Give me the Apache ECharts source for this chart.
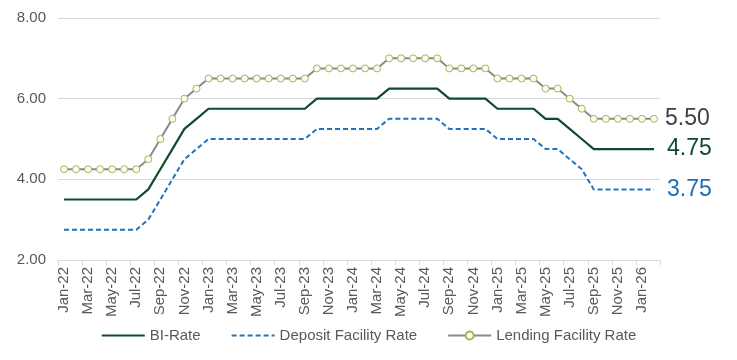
<!DOCTYPE html>
<html>
<head>
<meta charset="utf-8">
<script src="https://cdn.jsdelivr.net/npm/echarts@6/dist/echarts.min.js"></script>
<style>html,body{margin:0;padding:0;background:#fff}#c{width:737px;height:360px}</style>
</head>
<body>
<div id="c"></div>
<script>
const months = ["Jan-22","Feb-22","Mar-22","Apr-22","May-22","Jun-22","Jul-22","Aug-22","Sep-22","Oct-22","Nov-22","Dec-22",
"Jan-23","Feb-23","Mar-23","Apr-23","May-23","Jun-23","Jul-23","Aug-23","Sep-23","Oct-23","Nov-23","Dec-23",
"Jan-24","Feb-24","Mar-24","Apr-24","May-24","Jun-24","Jul-24","Aug-24","Sep-24","Oct-24","Nov-24","Dec-24",
"Jan-25","Feb-25","Mar-25","Apr-25","May-25","Jun-25","Jul-25","Aug-25","Sep-25","Oct-25","Nov-25","Dec-25",
"Jan-26","Feb-26"];
const biRate = [3.50,3.50,3.50,3.50,3.50,3.50,3.50,3.75,4.25,4.75,5.25,5.50,
5.75,5.75,5.75,5.75,5.75,5.75,5.75,5.75,5.75,6.00,6.00,6.00,
6.00,6.00,6.00,6.25,6.25,6.25,6.25,6.25,6.00,6.00,6.00,6.00,
5.75,5.75,5.75,5.75,5.50,5.50,5.25,5.00,4.75,4.75,4.75,4.75,
4.75,4.75];
const depositRate = [2.75,2.75,2.75,2.75,2.75,2.75,2.75,3.00,3.50,4.00,4.50,4.75,
5.00,5.00,5.00,5.00,5.00,5.00,5.00,5.00,5.00,5.25,5.25,5.25,
5.25,5.25,5.25,5.50,5.50,5.50,5.50,5.50,5.25,5.25,5.25,5.25,
5.00,5.00,5.00,5.00,4.75,4.75,4.50,4.25,3.75,3.75,3.75,3.75,
3.75,3.75];
const lendingRate = [4.25,4.25,4.25,4.25,4.25,4.25,4.25,4.50,5.00,5.50,6.00,6.25,
6.50,6.50,6.50,6.50,6.50,6.50,6.50,6.50,6.50,6.75,6.75,6.75,
6.75,6.75,6.75,7.00,7.00,7.00,7.00,7.00,6.75,6.75,6.75,6.75,
6.50,6.50,6.50,6.50,6.25,6.25,6.00,5.75,5.50,5.50,5.50,5.50,
5.50,5.50];
const yTicks = [2, 4, 6, 8];

const FONT = 'Liberation Sans, Arial, sans-serif';
const GREEN = '#0f4a2f', BLUE = '#2272bd', GREY = '#8a8a8a';
const chart = echarts.init(document.getElementById('c'), null, {renderer: 'canvas'});
chart.setOption({
  animation: false,
  textStyle: {fontFamily: FONT},
  grid: {left: 58, right: 77, top: 18, bottom: 100},
  legend: {
    bottom: 12, left: 'center', itemWidth: 43, itemHeight: 10, itemGap: 30,
    textStyle: {fontSize: 15, color: '#595959', fontFamily: FONT},
    data: [
      {name: 'BI-Rate', itemStyle: {opacity: 0}},
      {name: 'Deposit Facility Rate', itemStyle: {opacity: 0}},
      {name: 'Lending Facility Rate'}
    ]
  },
  xAxis: {
    type: 'category', data: months, boundaryGap: true,
    axisLine: {lineStyle: {color: '#d9d9d9', width: 1}},
    axisTick: {show: true, interval: 1, length: 5, lineStyle: {color: '#d9d9d9'}},
    axisLabel: {interval: 1, rotate: 90, fontSize: 15, color: '#595959', margin: 7, fontFamily: FONT}
  },
  yAxis: {
    type: 'value', min: yTicks[0], max: yTicks[yTicks.length - 1], interval: 2,
    axisLine: {show: false}, axisTick: {show: false},
    splitLine: {lineStyle: {color: '#d9d9d9', width: 1}},
    axisLabel: {fontSize: 15, color: '#595959', margin: 12, formatter: v => v.toFixed(2), fontFamily: FONT}
  },
  series: [
    {
      name: 'BI-Rate', type: 'line', data: biRate, showSymbol: false, symbol: 'none',
      lineStyle: {color: GREEN, width: 2.2}, itemStyle: {color: GREEN},
      endLabel: {show: true, formatter: p => p.value.toFixed(2), fontSize: 23, color: GREEN, distance: 13, fontFamily: FONT}
    },
    {
      name: 'Deposit Facility Rate', type: 'line', data: depositRate, showSymbol: false, symbol: 'none',
      lineStyle: {color: BLUE, width: 2, type: [5, 3]}, itemStyle: {color: BLUE},
      endLabel: {show: true, formatter: p => p.value.toFixed(2), fontSize: 23, color: '#1e6db5', distance: 13, fontFamily: FONT}
    },
    {
      name: 'Lending Facility Rate', type: 'line', data: lendingRate, symbol: 'circle', symbolSize: 7, showSymbol: true,
      lineStyle: {color: GREY, width: 2},
      itemStyle: {color: '#fdfde8', borderColor: '#a9ae6a', borderWidth: 1},
      endLabel: {show: true, formatter: p => p.value.toFixed(2), fontSize: 23, color: '#404040', distance: 11, fontFamily: FONT}
    }
  ]
});
</script>
</body>
</html>
